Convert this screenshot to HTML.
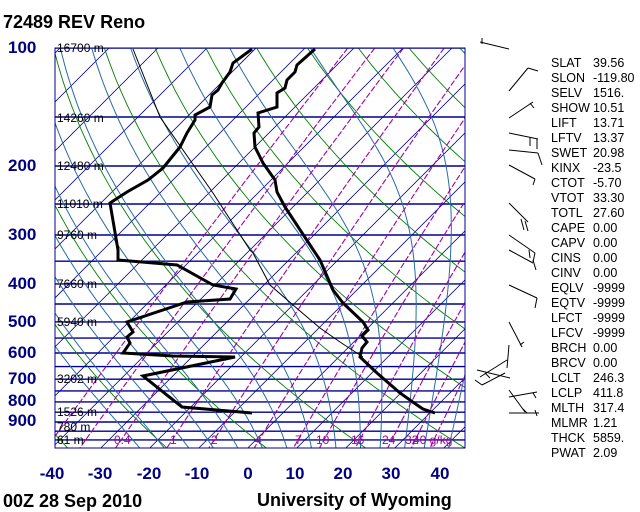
<!DOCTYPE html>
<html><head><meta charset="utf-8">
<style>
html,body{margin:0;padding:0;background:#fff;}
body{width:640px;height:512px;position:relative;overflow:hidden;font-family:"Liberation Sans",Arial,sans-serif;}
.t{position:absolute;white-space:nowrap;}
.b{font-weight:bold;}
.pl{position:absolute;left:8px;font-weight:bold;color:#000080;font-size:17px;line-height:18px;}
.xl{position:absolute;top:464px;font-weight:bold;color:#000080;font-size:17px;line-height:20px;width:40px;text-align:center;}
.h{position:absolute;left:57px;font-size:12px;color:#000;line-height:12px;}
.m{position:absolute;top:434px;font-size:12px;color:#a000a0;line-height:12px;}
.r{position:absolute;font-size:12.5px;line-height:15px;color:#000;}
</style></head><body>
<svg id="s" width="640" height="512" style="position:absolute;left:0;top:0">
<defs><clipPath id="c"><rect x="55" y="48" width="410" height="400"/></clipPath></defs>
<g id="g" clip-path="url(#c)"></g>
<rect x="55" y="48" width="410" height="400" fill="none" stroke="#000090" stroke-width="1"/>
<g id="w" stroke="#000" stroke-width="1" fill="none"></g>
</svg>
<div class="t b" style="left:3px;top:12px;font-size:18px">72489 REV Reno</div>
<div class="t b" style="left:3px;top:491px;font-size:18px">00Z 28 Sep 2010</div>
<div class="t b" style="left:257px;top:490px;font-size:18px">University of Wyoming</div>

<div class="pl" style="top:39px">100</div>
<div class="pl" style="top:157px">200</div>
<div class="pl" style="top:226px">300</div>
<div class="pl" style="top:275px">400</div>
<div class="pl" style="top:313px">500</div>
<div class="pl" style="top:344px">600</div>
<div class="pl" style="top:370px">700</div>
<div class="pl" style="top:392px">800</div>
<div class="pl" style="top:412px">900</div>

<div class="xl" style="left:32px">-40</div>
<div class="xl" style="left:80px">-30</div>
<div class="xl" style="left:129px">-20</div>
<div class="xl" style="left:177px">-10</div>
<div class="xl" style="left:228px">0</div>
<div class="xl" style="left:275px">10</div>
<div class="xl" style="left:323px">20</div>
<div class="xl" style="left:371px">30</div>
<div class="xl" style="left:420px">40</div>

<div class="h" style="top:42px">16700 m</div>
<div class="h" style="top:112px">14260 m</div>
<div class="h" style="top:160px">12480 m</div>
<div class="h" style="top:198px">11010 m</div>
<div class="h" style="top:229px">9760 m</div>
<div class="h" style="top:278px">7660 m</div>
<div class="h" style="top:316px">5940 m</div>
<div class="h" style="top:373px">3202 m</div>
<div class="h" style="top:406px">1526 m</div>
<div class="h" style="top:421px">780 m</div>
<div class="h" style="top:434px">61 m</div>

<div class="m" style="left:114px">0.4</div>
<div class="m" style="left:170px">1</div>
<div class="m" style="left:211px">2</div>
<div class="m" style="left:255px">4</div>
<div class="m" style="left:295px">7</div>
<div class="m" style="left:316px">10</div>
<div class="m" style="left:351px">16</div>
<div class="m" style="left:382px">24</div>
<div class="m" style="left:405px">32</div>
<div class="m" style="left:413px">40 g/kg</div>

<div class="r" style="left:551px;top:56px">SLAT<br>SLON<br>SELV<br>SHOW<br>LIFT<br>LFTV<br>SWET<br>KINX<br>CTOT<br>VTOT<br>TOTL<br>CAPE<br>CAPV<br>CINS<br>CINV<br>EQLV<br>EQTV<br>LFCT<br>LFCV<br>BRCH<br>BRCV<br>LCLT<br>LCLP<br>MLTH<br>MLMR<br>THCK<br>PWAT</div>
<div class="r" style="left:593px;top:56px">39.56<br>-119.80<br>1516.<br>10.51<br>13.71<br>13.37<br>20.98<br>-23.5<br>-5.70<br>33.30<br>27.60<br>0.00<br>0.00<br>0.00<br>0.00<br>-9999<br>-9999<br>-9999<br>-9999<br>0.00<br>0.00<br>246.3<br>411.8<br>317.4<br>1.21<br>5859.<br>2.09</div>

<script>
(function(){
var NS="http://www.w3.org/2000/svg",g=document.getElementById("g"),w=document.getElementById("w");
function Y(p){return 48+170.2*Math.log(p/100);}
function X(T,p){return 248+4.9*T+(448-Y(p));}
function pl(pts,col,sw,dash,par){var e=document.createElementNS(NS,"polyline");
 e.setAttribute("points",pts.map(function(a){return a[0].toFixed(1)+","+a[1].toFixed(1)}).join(" "));
 e.setAttribute("fill","none");e.setAttribute("stroke",col);e.setAttribute("stroke-width",sw);
 if(dash)e.setAttribute("stroke-dasharray",dash);(par||g).appendChild(e);}
for(var p=100;p<=1050;p+=50){var y=Y(p);pl([[55,y],[465,y]],"#000090",1.4);}
for(var T=-160;T<=60;T+=10){pl([[X(T,1050),448],[X(T,100),48]],"#000090",0.8);}
for(var th=173.15;th<=593.15;th+=20){var a=[];for(var p=100;p<=1050;p+=10){var t=th*Math.pow(p/1000,0.2857)-273.15;a.push([X(t,p),Y(p)]);}pl(a,"#008000",0.9);}
function es(t){return 6.112*Math.exp(17.67*t/(t+243.5));}
var starts=[-22,-17,-12,-7,-2,3,8,13,18,23,27,32,36,41];
starts.forEach(function(t0){var t=t0+273.15,p=1050,a=[[X(t0,p),Y(p)]];
 while(p>100){var tc=t-273.15,e=es(tc),rs=0.622*e/(p-e);
  var dTdp=(287*t+2.5e6*rs)/(1004+2.5e6*2.5e6*rs*0.622/(287*t*t))/p;
  t-=dTdp*5;p-=5;a.push([X(t-273.15,p),Y(p)]);}
 pl(a,"#2a6aa8",1);});
[0.1,0.2,0.4,1,2,4,7,10,16,24,32,40].forEach(function(wg){var wv=wg/1000,a=[];
 for(var p=100;p<=1050;p+=10){var e=wv*p/(0.622+wv),l=Math.log(e/6.112),tc=243.5*l/(17.67-l);a.push([X(tc,p),Y(p)]);}
 pl(a,"#a000a0",1.1,"6,2");});
pl([[363,357],[340,342],[320,328],[300,311],[270,285],[253,253],[250,250],[213,193],[160,117],[133,49]],"#000",1);
pl([[315,49],[297,65],[295,72],[287,80],[285,88],[277,93],[277,107],[258,113],[259,127],[254,133],[255,147],[263,163],[275,180],[277,192],[285,207],[312,248],[320,260],[333,290],[343,303],[363,322],[368,330],[362,336],[367,342],[362,348],[360,357],[377,373],[400,393],[417,405],[423,409],[435,413]],"#000",3);
pl([[252,49],[233,63],[230,72],[222,83],[218,90],[212,95],[210,107],[195,115],[195,120],[187,133],[180,147],[163,168],[148,180],[127,192],[110,203],[118,250],[118,260],[177,265],[213,285],[236,289],[230,299],[187,302],[127,322],[133,332],[127,337],[130,343],[123,353],[173,356],[235,357],[143,376],[182,407],[252,413]],"#000",3);
var L=[[480,42,509,49],[482,38,482,44],[509,91,528,68],[528,68,538,71],[509,118,533,102],[530,103,534,108],
[509,133,538,139],[530,137,530,146],[537,139,537,149],[509,150,538,153],[538,153,542,165],[509,165,535,179],[535,179,533,185],
[509,203,528,222],[521,219,524,230],[525,221,528,231],[509,235,535,253],[529,250,530,258],[535,253,533,262],
[509,250,533,263],[533,260,536,270],[509,285,537,298],[537,298,535,308],[509,322,522,347],[520,345,524,342],
[509,345,507,368],[480,377,507,360],[477,370,510,378],[475,380,482,385],[482,385,505,373],[485,373,490,378],
[509,390,525,412],[509,397,537,392],[533,393,536,398],[509,413,539,413],[523,409,527,413],[535,410,537,416]];
L.forEach(function(s){pl([[s[0],s[1]],[s[2],s[3]]],"#000",1,null,w);});
})();
</script>
</body></html>
